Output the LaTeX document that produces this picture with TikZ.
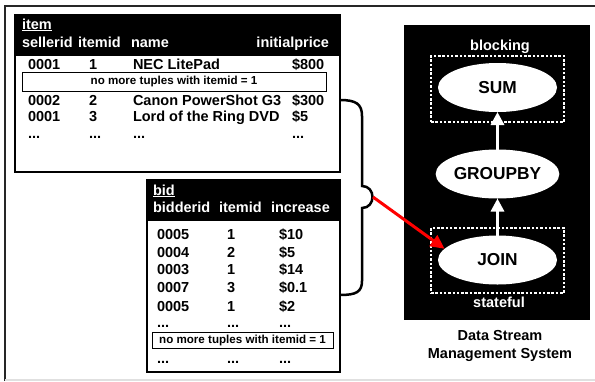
\documentclass[tikz,border=0pt]{standalone}
\usepackage{fontspec}
\setmainfont{Liberation Sans}
\usetikzlibrary{arrows.meta,shapes.geometric}
\begin{document}
\begin{tikzpicture}[x=1pt,y=-1pt,
  every node/.style={inner sep=0pt, outer sep=0pt},
  cell/.style={anchor=base west, font=\fontsize{14.5}{16}\selectfont\bfseries},
  hcell/.style={cell, text=white},
  note/.style={draw, line width=1pt, fill=white, font=\fontsize{11.6}{13}\selectfont\bfseries},
  tbl/.style={draw, line width=1.6pt, anchor=north west},
  op/.style={ellipse, fill=white, minimum width=119pt, minimum height=49pt, font=\fontsize{17.3}{19}\selectfont\bfseries},
  dbox/.style={draw=white, line width=1.2pt, dash pattern=on 2.5pt off 1.8pt, minimum width=133pt},
  wlabel/.style={anchor=base, text=white, font=\fontsize{14.5}{16}\selectfont\bfseries},
  caption/.style={anchor=base, font=\fontsize{14.5}{16}\selectfont\bfseries},
  warrow/.style={draw=white, line width=3pt, -{Triangle[length=13pt,width=13pt]}},
  rarrow/.style={draw=red, line width=3pt, -{Triangle[length=14pt,width=13pt]}},
  brace/.style={draw, line width=2.5pt}
]
\useasboundingbox (0,0) rectangle (595,381);
% outer frame
\draw[line width=1.3pt, black!85] (5,381) -- (5,6) -- (596,6);
\draw[line width=1.5pt, black!12] (5,380) -- (596,380);

% ---------- item table ----------
\node[tbl, minimum width=325pt, minimum height=157pt] (item) at (15,15) {};
\fill (15,15) rectangle (340,56);
\node[hcell] (itemt) at (22,29) {\underline{item}};
\node[hcell] (ih1) at (22,47) {sellerid};
\node[hcell] (ih2) at (78,47) {itemid};
\node[hcell] (ih3) at (131,47) {name};
\node[hcell, anchor=base east] (ih4) at (329,47) {initialprice};

\node[cell] (i11) at (28,69) {0001};
\node[cell] (i12) at (89,69) {1};
\node[cell] (i13) at (133,69) {NEC LitePad};
\node[cell] (i14) at (292,69) {\$800};

\node[note, minimum width=304pt, minimum height=19pt] (itemnote) at (174,81.5) {no more tuples with itemid = 1};

\node[cell] (i21) at (28,105) {0002};
\node[cell] (i22) at (89,105) {2};
\node[cell] (i23) at (133,105) {Canon PowerShot G3};
\node[cell] (i24) at (292,105) {\$300};
\node[cell] (i31) at (28,121) {0001};
\node[cell] (i32) at (89,121) {3};
\node[cell] (i33) at (133,121) {Lord of the Ring DVD};
\node[cell] (i34) at (292,121) {\$5};
\node[cell] (i41) at (28,138) {...};
\node[cell] (i42) at (89,138) {...};
\node[cell] (i43) at (133,138) {...};
\node[cell] (i44) at (292,138) {...};

% ---------- bid table ----------
\node[tbl, minimum width=193pt, minimum height=192pt] (bid) at (147,180) {};
\fill (147,180) rectangle (340,221);
\node[hcell] (bidt) at (153,195) {\underline{bid}};
\node[hcell] (bh1) at (153,212) {bidderid};
\node[hcell] (bh2) at (219,212) {itemid};
\node[hcell] (bh3) at (271,212) {increase};

\node[cell] (b11) at (157,239) {0005};
\node[cell] (b12) at (227,239) {1};
\node[cell] (b13) at (279,239) {\$10};
\node[cell] (b21) at (157,257) {0004};
\node[cell] (b22) at (227,257) {2};
\node[cell] (b23) at (279,257) {\$5};
\node[cell] (b31) at (157,274) {0003};
\node[cell] (b32) at (227,274) {1};
\node[cell] (b33) at (279,274) {\$14};
\node[cell] (b41) at (157,292) {0007};
\node[cell] (b42) at (227,292) {3};
\node[cell] (b43) at (279,292) {\$0.1};
\node[cell] (b51) at (157,311) {0005};
\node[cell] (b52) at (227,311) {1};
\node[cell] (b53) at (279,311) {\$2};
\node[cell] (b61) at (157,327) {...};
\node[cell] (b62) at (227,327) {...};
\node[cell] (b63) at (279,327) {...};
\node[note, minimum width=181pt, minimum height=16pt] (bidnote) at (242.5,340) {no more tuples with itemid = 1};
\node[cell] (b71) at (157,363) {...};
\node[cell] (b72) at (227,363) {...};
\node[cell] (b73) at (279,363) {...};

% ---------- brace ----------
\coordinate (btop) at (340,100);
\coordinate (bbot) at (340,295);
\coordinate (bracetip) at (373,197);
\draw[brace] (btop) .. controls (356,100) and (362,104) .. (362,116) -- (362,186)
  .. controls (376,186) and (376,208) .. (362,208) -- (362,281)
  .. controls (362,292) and (356,295) .. (bbot);

% ---------- DSMS ----------
\node[fill=black, anchor=north west, minimum width=186pt, minimum height=295pt] (dsms) at (404,25) {};
\node[dbox, minimum height=66pt] (blockbox) at (497.5,89) {};
\node[dbox, minimum height=65pt] (statebox) at (497.5,260.5) {};
\node[wlabel] (blocking) at (500,50) {blocking};
\node[wlabel] (stateful) at (499,307) {stateful};
\node[op] (sum) at (497.5,87.5) {SUM};
\node[op] (groupby) at (497.5,174) {GROUPBY};
\node[op] (join) at (497.5,260) {JOIN};
\draw[warrow] (groupby) -- (sum);
\draw[warrow] (join) -- (groupby);
\node[caption] (cap1) at (500,340) {Data Stream};
\node[caption] (cap2) at (500,358) {Management System};

% red arrow
\draw[rarrow] (bracetip) -- (join.168);
\end{tikzpicture}
\end{document}
